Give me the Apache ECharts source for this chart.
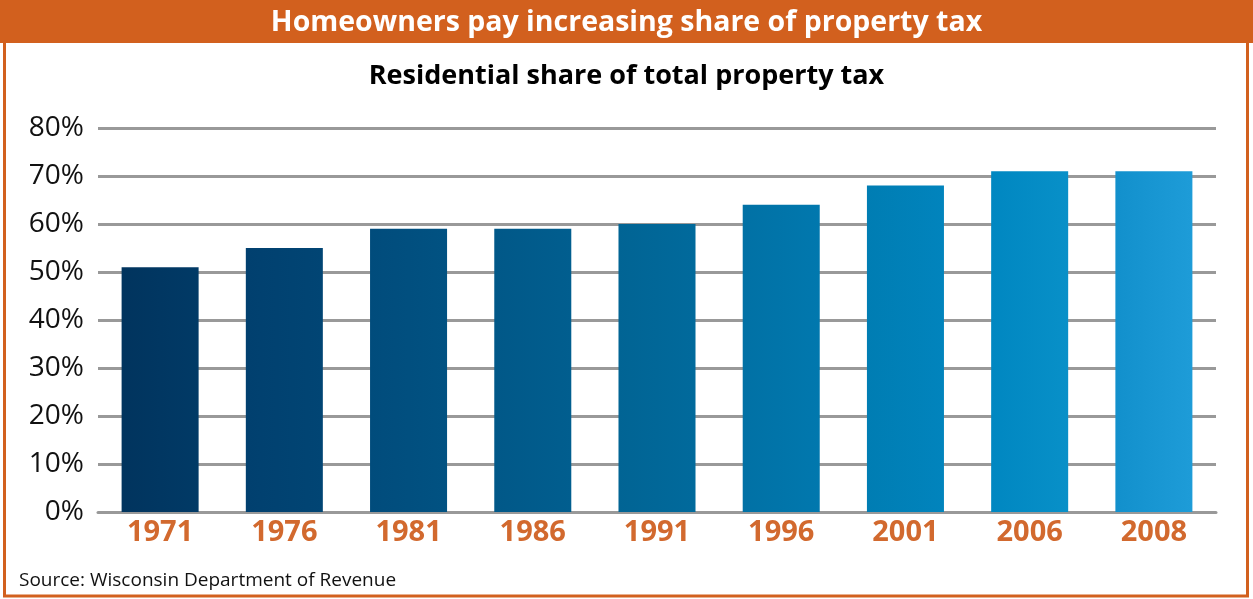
<!DOCTYPE html>
<html>
<head>
<meta charset="utf-8">
<script src="https://cdn.jsdelivr.net/npm/echarts@6/dist/echarts.min.js"></script>
<style>
  html, body { margin: 0; padding: 0; background: #fff; }
  #chart { width: 1253px; height: 599px; }
</style>
</head>
<body>
<div id="chart"></div>
<script>
// data
var years = ['1971', '1976', '1981', '1986', '1991', '1996', '2001', '2006', '2008'];
var residentialShare = [51, 55, 59, 59, 60, 64, 68, 71, 71];
var yTicks = [0, 10, 20, 30, 40, 50, 60, 70, 80];

// each bar has its own blue, slightly lighter on the right
var barLeft = ['#01345e', '#01406f', '#014c7c', '#015888', '#016494', '#0171a5', '#007db3', '#0087c1', '#1290cc'];
var barRight = ['#013a66', '#014574', '#015282', '#015e8f', '#016a9c', '#0178ae', '#0184bd', '#0890c8', '#1e9cd8'];

var orange = '#d2601e';
var font = '"Open Sans", "Noto Sans", sans-serif';

var chart = echarts.init(document.getElementById('chart'));

var barData = residentialShare.map(function (v, i) {
  return {
    value: v,
    itemStyle: {
      color: new echarts.graphic.LinearGradient(0, 0, 1, 0, [
        { offset: 0, color: barLeft[i] },
        { offset: 1, color: barRight[i] }
      ])
    }
  };
});

chart.setOption({
  animation: false,
  backgroundColor: '#fff',
  textStyle: { fontFamily: font },
  graphic: [
    { type: 'rect', shape: { x: 4.5, y: 2, width: 1243, height: 594 },
      style: { fill: 'none', stroke: orange, lineWidth: 3 }, z: 0 },
    { type: 'rect', shape: { x: 0, y: 0, width: 1253, height: 43 },
      style: { fill: orange }, z: 1 }
  ],
  title: [
    { text: 'Homeowners pay increasing share of property tax', left: 'center', top: 3,
      textStyle: { color: '#fff', fontSize: 28.5, fontWeight: 'bold', fontFamily: font }, z: 10 },
    { text: 'Residential share of total property tax', left: 'center', top: 58,
      textStyle: { color: '#000', fontSize: 27, fontWeight: 'bold', fontFamily: font } },
    { text: 'Source: Wisconsin Department of Revenue', left: 14, top: 566,
      textStyle: { color: '#111', fontSize: 19, fontWeight: 'normal', fontFamily: font } }
  ],
  grid: { left: 98, right: 37, top: 128, bottom: 87 },
  xAxis: {
    type: 'category',
    data: years,
    axisLine: { show: true, lineStyle: { color: '#999', width: 3 } },
    axisTick: { show: false },
    axisLabel: { color: '#d2692e', fontSize: 29, fontWeight: 'bold', margin: 6 }
  },
  yAxis: {
    type: 'value',
    min: yTicks[0],
    max: yTicks[yTicks.length - 1],
    interval: 10,
    axisLine: { show: false },
    axisTick: { show: false },
    axisLabel: { color: '#111', fontSize: 28, margin: 14,
      formatter: function (v) { return v + '%'; } },
    splitLine: { lineStyle: { color: '#999', width: 3 } }
  },
  series: [{
    type: 'bar',
    data: barData,
    barWidth: '62%'
  }]
});
</script>
</body>
</html>
